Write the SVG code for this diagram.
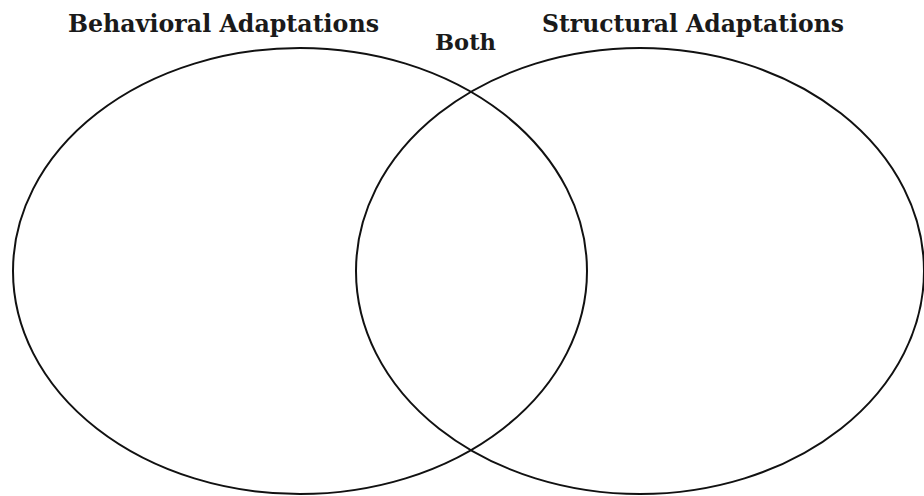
<svg xmlns="http://www.w3.org/2000/svg" width="924" height="496" viewBox="0 0 924 496">
<style>
.t{font-family:"DejaVu Serif","Liberation Serif",serif;font-weight:bold;fill:#1a1a1a}
.c{fill:none;stroke:#111;stroke-width:2}
</style>
<rect width="924" height="496" fill="#fff"/>
<g id="behavioral">
<ellipse class="c" cx="300" cy="271" rx="287" ry="223"/>
<text class="t" x="68" y="32" font-size="25" textLength="311" lengthAdjust="spacingAndGlyphs">Behavioral Adaptations</text>
</g>
<g id="structural">
<ellipse class="c" cx="640" cy="271" rx="284" ry="223"/>
<text class="t" x="542" y="32" font-size="25" textLength="302" lengthAdjust="spacingAndGlyphs">Structural Adaptations</text>
</g>
<g id="both">
<text class="t" x="435" y="50" font-size="23" textLength="61" lengthAdjust="spacingAndGlyphs">Both</text>
</g>
<g id="connectors"></g>
</svg>
